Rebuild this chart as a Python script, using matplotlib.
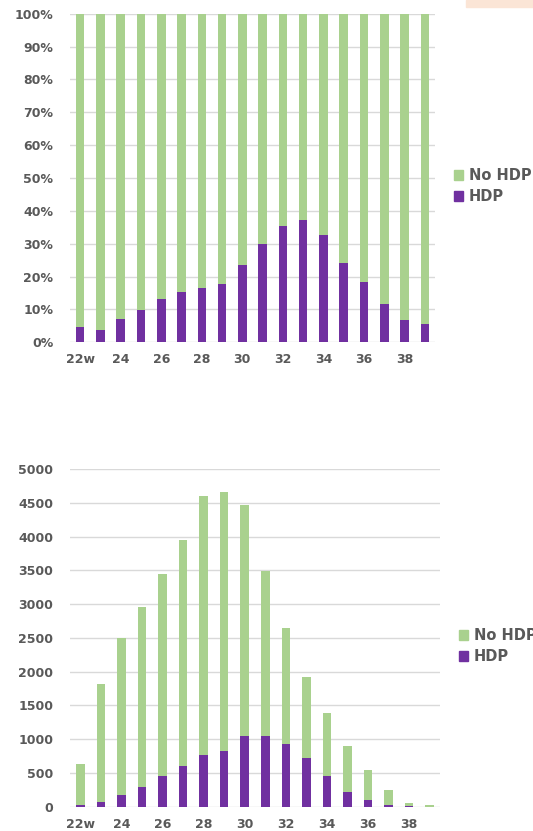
import matplotlib.pyplot as plt
from matplotlib.patches import Rectangle, Patch

# gestational week categories
weeks = ['22w', '23', '24', '25', '26', '27', '28', '29', '30',
         '31', '32', '33', '34', '35', '36', '37', '38', '39']
# counts
hdp = [29, 70, 178, 290, 456, 608, 762, 832, 1050,
       1048, 932, 714, 452, 217, 100, 28, 4, 1]
no_hdp = [598, 1741, 2324, 2667, 2994, 3345, 3843, 3832, 3412,
          2446, 1709, 1206, 930, 682, 443, 214, 55, 17]
tick_labels = ['22w', '24', '26', '28', '30', '32', '34', '36', '38']

purple = '#7030A0'
green = '#A9D18E'
grey = '#595959'
grid_c = '#D9D9D9'

plt.rcParams['font.family'] = 'DejaVu Sans'
plt.rcParams['font.weight'] = 'bold'

x = list(range(len(weeks)))
pct_hdp = [h / (h + n) * 100 for h, n in zip(hdp, no_hdp)]
pct_no = [n / (h + n) * 100 for h, n in zip(hdp, no_hdp)]

fig = plt.figure(figsize=(5.33, 8.31), dpi=100)

# peach box top right
fig.patches.append(Rectangle((466 / 533, 1 - 6.7 / 831), 67 / 533, 6.7 / 831,
                             transform=fig.transFigure, color='#FBE5D6', zorder=0))

ax1 = fig.add_axes([70 / 533, 1 - 342.3 / 831, 365 / 533, 328.6 / 831])
ax2 = fig.add_axes([70 / 533, 1 - 806.7 / 831, 370 / 533, 337.7 / 831])

w = 0.42
ax1.bar(x, pct_hdp, width=w, color=purple, zorder=3)
ax1.bar(x, pct_no, width=w, bottom=pct_hdp, color=green, zorder=3)
ax1.set_ylim(0, 100)
ax1.set_yticks(range(0, 101, 10))
ax1.set_yticklabels([f'{v}%' for v in range(0, 101, 10)])

ax2.bar(x, hdp, width=w, color=purple, zorder=3)
ax2.bar(x, no_hdp, width=w, bottom=hdp, color=green, zorder=3)
ax2.set_ylim(0, 5000)
ax2.set_yticks(range(0, 5001, 500))

for ax in (ax1, ax2):
    ax.set_xlim(-0.5, 17.5)
    ax.set_xticks(x[::2])
    ax.set_xticklabels(tick_labels)
    for s in ax.spines.values():
        s.set_visible(False)
    ax.grid(axis='y', color=grid_c, lw=1, zorder=0)
    ax.tick_params(length=0, colors=grey, labelsize=9)
    ax.tick_params(axis='y', pad=12)
    ax.tick_params(axis='x', pad=8)

handles = [Patch(color=green, label='No HDP'), Patch(color=purple, label='HDP')]
leg_kw = dict(frameon=False, handlelength=0.62, handleheight=0.62, handletextpad=0.4,
              labelspacing=0.4, fontsize=10.5, labelcolor=grey, loc='center left',
              borderpad=0, borderaxespad=0)
fig.legend(handles=handles, bbox_to_anchor=(454 / 533, 1 - 186 / 831), **leg_kw)
fig.legend(handles=handles, bbox_to_anchor=(459 / 533, 1 - 646 / 831), **leg_kw)

fig.savefig('out.png', dpi=100)
